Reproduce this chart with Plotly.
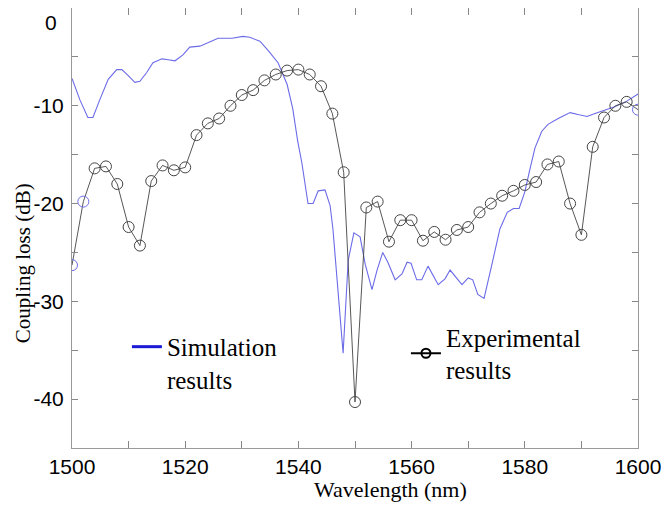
import plotly.graph_objects as go

# simulation curve (wavelength nm, coupling loss dB)
sim_wl = [1500, 1501.4, 1502.8, 1503.7, 1504.9, 1506.4, 1507.9, 1508.8, 1509.9, 1511.1,
          1512.0, 1513.2, 1514.3, 1515.9, 1517.0, 1518.2, 1519.6, 1520.8, 1522.6, 1523.8,
          1525.8, 1528.3, 1530.2, 1531.4, 1533.2, 1534.6, 1536.4, 1538.0, 1539.0, 1539.9,
          1540.6, 1541.7, 1542.6, 1543.5, 1544.7, 1545.6, 1546.1, 1547.9, 1548.8, 1549.8,
          1550.9, 1551.8, 1553.0, 1553.9, 1554.9, 1555.8, 1557.1, 1558.3, 1559.2, 1559.9,
          1560.9, 1561.8, 1562.9, 1564.7, 1565.9, 1566.8, 1568.0, 1568.9, 1570.0, 1570.8,
          1571.7, 1572.8, 1574.2, 1575.6, 1576.9, 1578.0, 1579.0, 1580.0, 1580.9, 1581.8,
          1583.0, 1584.1, 1585.9, 1588.0, 1589.4, 1591.0, 1592.4, 1594.2, 1595.9, 1598.1,
          1600]
sim_loss = [-7.2, -9.4, -11.2, -11.2, -9.4, -7.3, -6.3, -6.3, -6.9, -7.6,
            -7.5, -6.6, -5.6, -5.2, -5.3, -5.4, -4.8, -4.0, -3.9, -3.6,
            -3.1, -3.1, -2.9, -3.0, -3.4, -4.3, -5.6, -7.8, -10.3, -13.7,
            -15.8, -20.0, -20.0, -18.7, -18.6, -20.2, -22.6, -35.3, -25.8, -23.0,
            -23.4, -26.2, -28.8, -26.8, -25.0, -26.0, -27.8, -27.2, -26.0, -26.1,
            -27.8, -27.8, -26.4, -28.3, -27.7, -26.8, -27.7, -28.3, -27.6, -27.8,
            -29.3, -29.7, -26.2, -22.6, -20.9, -20.5, -20.5, -18.8, -16.5, -14.3,
            -12.6, -11.9, -11.3, -10.7, -10.9, -11.1, -10.8, -10.4, -10.1, -9.5,
            -8.8]

# measured points
exp_wl = [1500, 1502, 1504, 1506, 1508, 1510, 1512, 1514, 1516, 1518,
          1520, 1522, 1524, 1526, 1528, 1530, 1532, 1534, 1536, 1538,
          1540, 1542, 1544, 1546, 1548, 1550, 1552, 1554, 1556, 1558,
          1560, 1562, 1564, 1566, 1568, 1570, 1572, 1574, 1576, 1578,
          1580, 1582, 1584, 1586, 1588, 1590, 1592, 1594, 1596, 1598,
          1600]
exp_loss = [-26.3, -19.8, -16.4, -16.2, -18.0, -22.4, -24.3, -17.7, -16.1, -16.6,
            -16.3, -13.0, -11.8, -11.3, -10.0, -8.9, -8.4, -7.4, -6.8, -6.4,
            -6.3, -6.8, -8.0, -10.8, -16.8, -40.3, -20.4, -19.8, -23.9, -21.7,
            -21.7, -23.8, -22.9, -23.7, -22.7, -22.4, -20.9, -20.0, -19.2, -18.7,
            -18.1, -17.8, -16.0, -15.7, -20.0, -23.2, -14.2, -11.2, -10.0, -9.6,
            -10.4]

x_ticks = [1500, 1520, 1540, 1560, 1580, 1600]
y_ticks = [-10, -20, -30, -40]
y_ticktext = ["-10", "-20", "-30", "-40"]
y_top = 0  # top label sits at the frame edge, drawn separately so it is not clipped

sim_color = "#6b6be8"
exp_color = "#444444"
# the end markers show up blue in the original
marker_colors = [exp_color] * len(exp_loss)
for i in (0, 1, len(exp_loss) - 1):
    marker_colors[i] = sim_color

serif = "Liberation Serif"
sans = "Liberation Sans"

fig = go.Figure()
fig.add_trace(go.Scatter(x=sim_wl, y=sim_loss, mode="lines",
                         line=dict(color=sim_color, width=1.1), showlegend=False))
fig.add_trace(go.Scatter(x=exp_wl, y=exp_loss, mode="lines+markers",
                         line=dict(color=exp_color, width=0.9),
                         marker=dict(symbol="circle-open", size=11, color=marker_colors,
                                     line=dict(width=1)),
                         showlegend=False))

# legend-only entries
fig.add_trace(go.Scatter(x=[None], y=[None], mode="lines", name="Simulation<br>results",
                         line=dict(color="#1a1ad6", width=3), legend="legend"))
fig.add_trace(go.Scatter(x=[None], y=[None], mode="lines+markers", name="Experimental<br>results",
                         line=dict(color="black", width=2),
                         marker=dict(symbol="circle-open", size=9, color="black", line=dict(width=2)),
                         legend="legend2"))

axis_common = dict(showline=True, linecolor="#999999", linewidth=1, mirror="ticks",
                   ticks="inside", tickcolor="#888888", showgrid=False, zeroline=False,
                   tickfont=dict(family=sans, size=21, color="black"))

fig.update_xaxes(range=[1500, 1600], tickvals=x_ticks, ticklen=7,
                 minor=dict(dtick=10, ticks="inside", ticklen=7, tickcolor="#888888"),
                 **axis_common)
fig.update_yaxes(range=[-45, 0], tickvals=y_ticks, ticktext=y_ticktext, ticklen=6,
                 ticklabelstandoff=3,
                 minor=dict(dtick=5, ticks="inside", ticklen=6, tickcolor="#888888"),
                 **axis_common)

# page body adds 8px offset, so figure is 8px smaller and margins shifted
fig.update_layout(
    width=661, height=497,
    margin=dict(l=64, r=31, t=0, b=57),
    paper_bgcolor="white", plot_bgcolor="white",
    legend=dict(x=0.097, y=0.282, xanchor="left", yanchor="top", valign="top",
                bgcolor="rgba(0,0,0,0)", font=dict(family=serif, size=25, color="black")),
    legend2=dict(x=0.59, y=0.304, xanchor="left", yanchor="top", valign="middle",
                 bgcolor="rgba(0,0,0,0)", font=dict(family=serif, size=25, color="black")),
    annotations=[
        dict(text=str(y_top), xref="paper", yref="y", x=0, y=y_top, xshift=-13, yshift=-14,
             xanchor="right", yanchor="middle", showarrow=False,
             font=dict(family=sans, size=21, color="black")),
        dict(text="Wavelength (nm)", xref="paper", yref="paper", x=0.562, y=-0.095,
             xanchor="center", yanchor="middle", showarrow=False,
             font=dict(family=serif, size=22, color="black")),
        dict(text="Coupling loss (dB)", xref="paper", yref="paper", x=-0.0866, y=0.42,
             xanchor="center", yanchor="middle", textangle=-90, showarrow=False,
             font=dict(family=serif, size=21, color="black")),
    ],
)

fig.write_html("out.html")
